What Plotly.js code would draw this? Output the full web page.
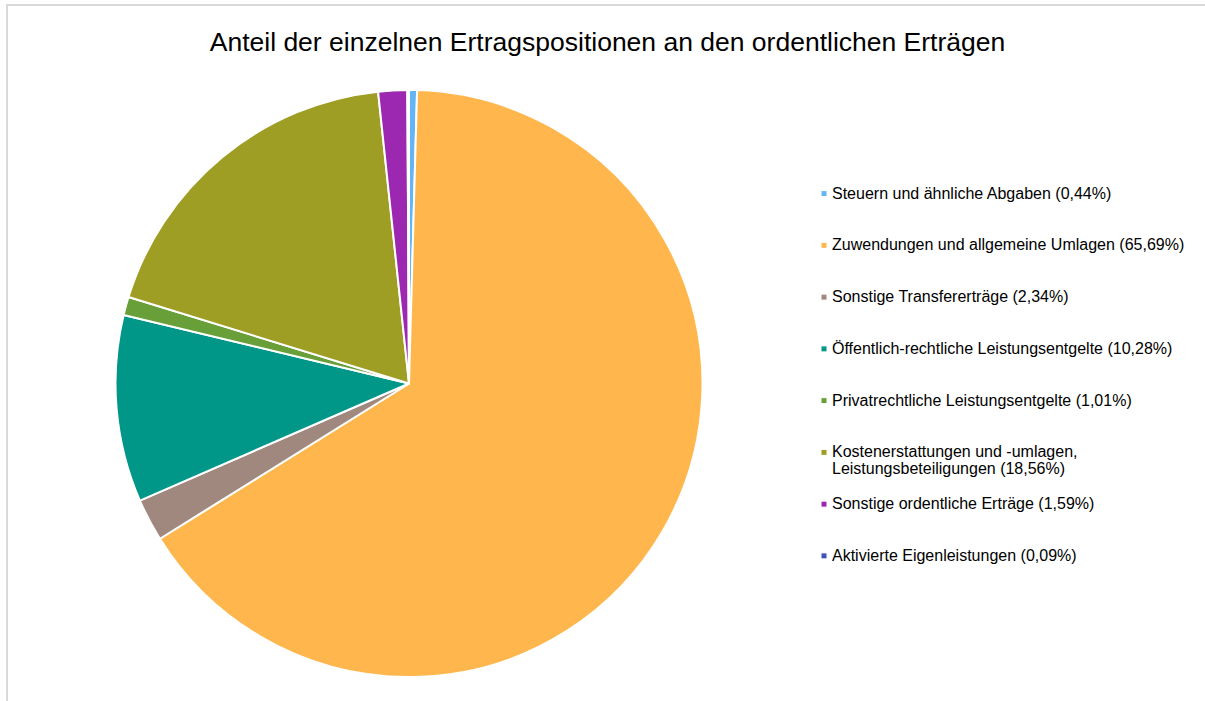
<!DOCTYPE html>
<html>
<head>
<meta charset="utf-8">
<script src="https://cdn.plot.ly/plotly-3.0.1.min.js"></script>
<style>
  html, body { margin: 0; padding: 0; background: #ffffff; }
  #wrap { position: relative; width: 1205px; height: 701px; overflow: hidden; }
  #chart { position: absolute; left: 0; top: 0; width: 1205px; height: 701px; }
  #frame { position: absolute; left: 6px; top: 4px; width: 1210px; height: 710px;
           border-left: 2px solid #d9d9d9; border-top: 2px solid #d9d9d9; pointer-events: none; }
  .legendpie { transform-box: fill-box; transform-origin: center; transform: translateX(32px) scale(0.5); }
</style>
</head>
<body>
<div id="wrap">
  <div id="chart"></div>
  <div id="frame"></div>
</div>
<script>
const titleText = 'Anteil der einzelnen Ertragspositionen an den ordentlichen Erträgen';
const categories = [
  'Steuern und ähnliche Abgaben',
  'Zuwendungen und allgemeine Umlagen',
  'Sonstige Transfererträge',
  'Öffentlich-rechtliche Leistungsentgelte',
  'Privatrechtliche Leistungsentgelte',
  'Kostenerstattungen und -umlagen,<br>Leistungsbeteiligungen',
  'Sonstige ordentliche Erträge',
  'Aktivierte Eigenleistungen'
];
const shares = [0.44, 65.69, 2.34, 10.28, 1.01, 18.56, 1.59, 0.09];
const colors = ['#64B5F6', '#FFB74D', '#A1887F', '#009688', '#689F38', '#9E9D24', '#9C27B0', '#3F51B5'];

const span = t => '<span style="font-size:16px">' + t + '</span>';
const labels = categories.map((c, i) => {
  const full = c + ' (' + shares[i].toFixed(2).replace('.', ',') + '%)';
  const parts = full.split('<br>').map(span);
  while (parts.length < 3) parts.push('\u00a0');
  return parts.join('<br>');
});

const cx = 409, cy = 383.5, r = 293.5, W = 1205, H = 701;

const trace = {
  type: 'pie',
  labels: labels,
  values: shares,
  sort: false,
  direction: 'clockwise',
  rotation: 0,
  textinfo: 'none',
  hoverinfo: 'label+percent',
  marker: { colors: colors, line: { color: '#ffffff', width: 2 } },
  domain: { x: [(cx - r) / W, (cx + r) / W], y: [(H - cy - r) / H, (H - cy + r) / H] }
};

const layout = {
  width: W, height: H,
  margin: { l: 0, r: 0, t: 0, b: 0 },
  paper_bgcolor: 'rgba(0,0,0,0)',
  font: { family: 'Arial, "Liberation Sans", sans-serif', color: '#000000' },
  title: {
    text: titleText,
    font: { size: 26.5, color: '#000000', family: 'Arial, "Liberation Sans", sans-serif' },
    x: 607.5 / W, xanchor: 'center', xref: 'container',
    y: 1 - 42 / H, yanchor: 'middle', yref: 'container'
  },
  showlegend: true,
  legend: {
    x: 792 / W, xanchor: 'left',
    y: 1 - 179 / H, yanchor: 'top',
    valign: 'top',
    font: { size: 12.5, color: '#000000' },
    bgcolor: 'rgba(0,0,0,0)',
    borderwidth: 0
  }
};

Plotly.newPlot('chart', [trace], layout, { displayModeBar: false, staticPlot: true });
</script>
</body>
</html>
